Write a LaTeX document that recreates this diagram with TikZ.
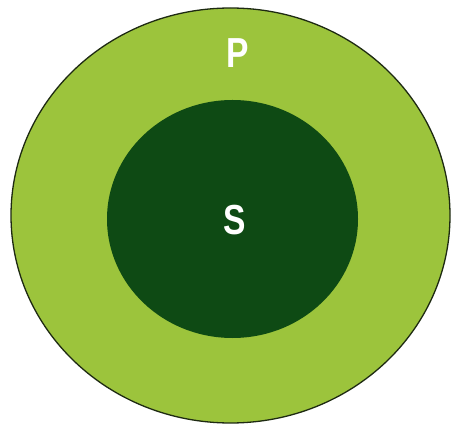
\documentclass[tikz,border=0pt]{standalone}
\usepackage{fontspec}
\setmainfont{Liberation Sans}
\definecolor{lightg}{HTML}{9CC43C}
\definecolor{darkg}{HTML}{0E4A14}
\definecolor{rim}{HTML}{1E2A12}
\tikzset{lbl/.style={text=white,font=\bfseries\fontsize{42}{42}\selectfont,inner sep=0pt,xscale=0.8}}
\begin{document}
\begin{tikzpicture}[x=1pt,y=-1pt]
\useasboundingbox (0,0) rectangle (452,427);
\fill[white] (0,0) rectangle (452,427);
\draw[fill=lightg,draw=rim,line width=1.3pt] (230.5,215.5) ellipse [x radius=219.5,y radius=207.5];
\fill[darkg] (232.5,219) ellipse [x radius=125.5,y radius=119];
\node[lbl] (P) at (237.5,53.5) {P};
\node[lbl] (S) at (234.5,220) {S};
\end{tikzpicture}
\end{document}
